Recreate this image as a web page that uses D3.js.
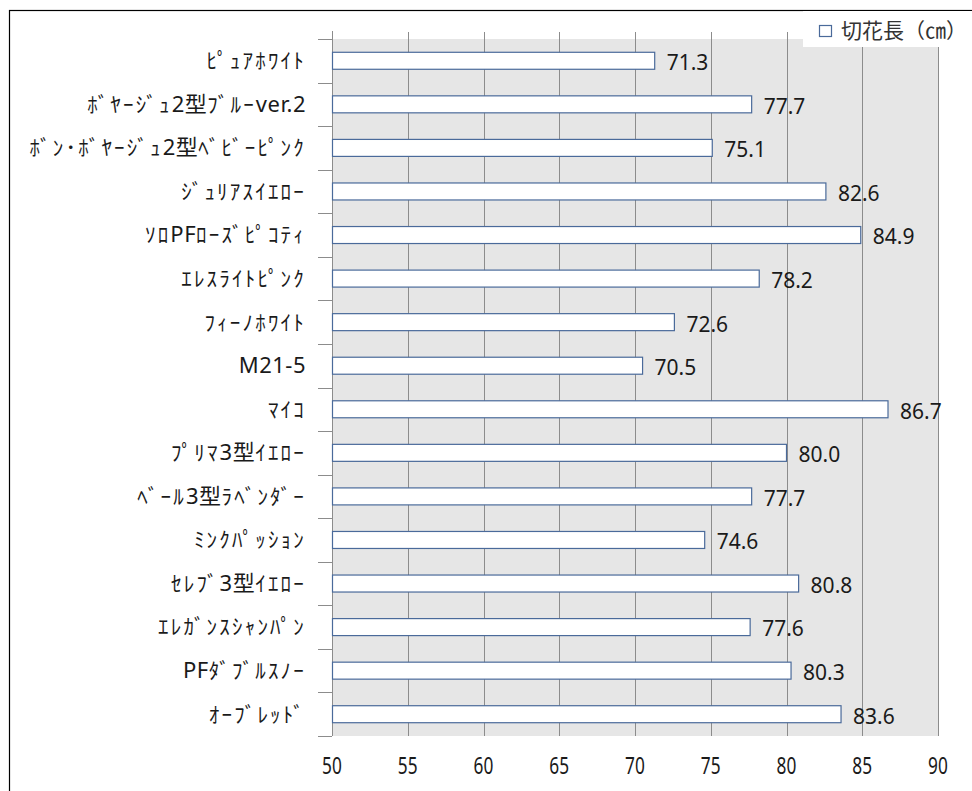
<!DOCTYPE html>
<meta charset="utf-8">
<script src="https://d3js.org/d3.v7.min.js"></script>
<style>
  body { margin: 0; background: #fff; }
  text { font-family: "Noto Sans", "Noto Sans CJK JP", sans-serif; fill: #1a1a1a; }
</style>
<div id="chart"></div>
<script>
  // data
  const categories = ["ﾋﾟｭｱﾎﾜｲﾄ", "ﾎﾞﾔｰｼﾞｭ2型ﾌﾞﾙｰver.2", "ﾎﾞﾝ･ﾎﾞﾔｰｼﾞｭ2型ﾍﾞﾋﾞｰﾋﾟﾝｸ", "ｼﾞｭﾘｱｽｲｴﾛｰ",
    "ｿﾛPFﾛｰｽﾞﾋﾟｺﾃｨ", "ｴﾚｽﾗｲﾄﾋﾟﾝｸ", "ﾌｨｰﾉﾎﾜｲﾄ", "M21-5", "ﾏｲｺ", "ﾌﾟﾘﾏ3型ｲｴﾛｰ",
    "ﾍﾞｰﾙ3型ﾗﾍﾞﾝﾀﾞｰ", "ﾐﾝｸﾊﾟｯｼｮﾝ", "ｾﾚﾌﾞ3型ｲｴﾛｰ", "ｴﾚｶﾞﾝｽｼｬﾝﾊﾟﾝ", "PFﾀﾞﾌﾞﾙｽﾉｰ", "ｵｰﾌﾞﾚｯﾄﾞ"];
  const lengths = [71.3, 77.7, 75.1, 82.6, 84.9, 78.2, 72.6, 70.5, 86.7, 80.0, 77.7, 74.6, 80.8, 77.6, 80.3, 83.6];
  const xTicks = [50, 55, 60, 65, 70, 75, 80, 85, 90];
  const seriesName = "切花長（㎝）";

  const W = 972, H = 791;
  const margin = { top: 39, right: 34, bottom: 55, left: 332 };
  const width = W - margin.left - margin.right,
    height = H - margin.top - margin.bottom;

  const svg = d3.select("#chart").append("svg")
    .attr("width", W).attr("height", H);

  // outer chart border
  svg.append("rect")
    .attr("x", 9.5).attr("y", 10.5)
    .attr("width", W).attr("height", H)
    .attr("fill", "none").attr("stroke", "#000").attr("stroke-width", 1.2);

  const g = svg.append("g").attr("transform", `translate(${margin.left},${margin.top})`);

  const x = d3.scaleLinear().domain([50, 90]).range([0, width]);
  const y = d3.scaleBand().domain(categories).range([0, height]).paddingInner(0.61).paddingOuter(0.305);
  const yb = d3.scaleBand().domain(categories).range([0, height]);

  // plot background
  g.append("rect")
    .attr("width", width).attr("height", height)
    .attr("fill", "#e6e6e6");

  // vertical gridlines
  g.selectAll(".grid")
    .data(xTicks.slice(1))
    .enter().append("line")
    .attr("x1", d => Math.round(x(d)) + 0.5).attr("x2", d => Math.round(x(d)) + 0.5)
    .attr("y1", -7).attr("y2", height)
    .attr("stroke", "#8c8c8c");

  // y axis line and category separators
  g.append("line")
    .attr("x1", 0.5).attr("x2", 0.5).attr("y1", -8).attr("y2", height)
    .attr("stroke", "#8c8c8c");
  g.selectAll(".sep")
    .data(categories.concat([null]))
    .enter().append("line")
    .attr("x1", -14).attr("x2", 0)
    .attr("y1", (d, i) => Math.round(i * yb.step()) + 0.5)
    .attr("y2", (d, i) => Math.round(i * yb.step()) + 0.5)
    .attr("stroke", "#8c8c8c");

  // bars
  g.selectAll(".bar")
    .data(lengths)
    .enter().append("rect")
    .attr("x", 0.5)
    .attr("y", (d, i) => y(categories[i]))
    .attr("width", d => x(d) - 0.5)
    .attr("height", y.bandwidth())
    .attr("fill", "#fff")
    .attr("stroke", "#4a6a9a").attr("stroke-width", 1.2);

  // value labels
  g.selectAll(".val")
    .data(lengths)
    .enter().append("text")
    .attr("x", d => x(d) + 12)
    .attr("y", (d, i) => yb(categories[i]) + yb.step() / 2 + 2)
    .attr("dy", "0.35em")
    .style("font-size", "21px")
    .text(d => d.toFixed(1));

  // category labels: half-width kana runs are spaced out like the original font
  const kana = /[\uFF61-\uFF9F]+|[^\uFF61-\uFF9F]+/g;
  g.selectAll(".cat")
    .data(categories)
    .enter().append("text")
    .attr("x", -26)
    .attr("y", d => yb(d) + yb.step() / 2)
    .attr("dy", "0.35em")
    .attr("text-anchor", "end")
    .style("font-size", "21px")
    .each(function (d) {
      const t = d3.select(this);
      d.match(kana).forEach(run => {
        const isKana = /[\uFF61-\uFF9F]/.test(run);
        t.append("tspan")
          .style("letter-spacing", isKana ? "2.2px" : "0.5px")
          .style("font-size", isKana ? "21px" : "22px")
          .text(run);
      });
    });

  // x tick labels (narrow face in the original)
  g.selectAll(".xt")
    .data(xTicks)
    .enter().append("text")
    .attr("transform", d => `translate(${x(d)},${height + 30}) scale(0.72,1)`)
    .attr("dy", "0.35em")
    .attr("text-anchor", "middle")
    .style("font-size", "24px")
    .text(d => d);

  // legend
  const lg = svg.append("g").attr("transform", "translate(803,11)");
  lg.append("rect").attr("width", 170).attr("height", 36).attr("fill", "#fff");
  lg.append("rect").attr("x", 16.5).attr("y", 14.5).attr("width", 12).attr("height", 11)
    .attr("fill", "#fff").attr("stroke", "#4a6a9a").attr("stroke-width", 1.2);
  lg.append("text").attr("x", 38).attr("y", 20).attr("dy", "0.35em")
    .style("font-size", "21px").style("fill", "#333").text(seriesName);
</script>
